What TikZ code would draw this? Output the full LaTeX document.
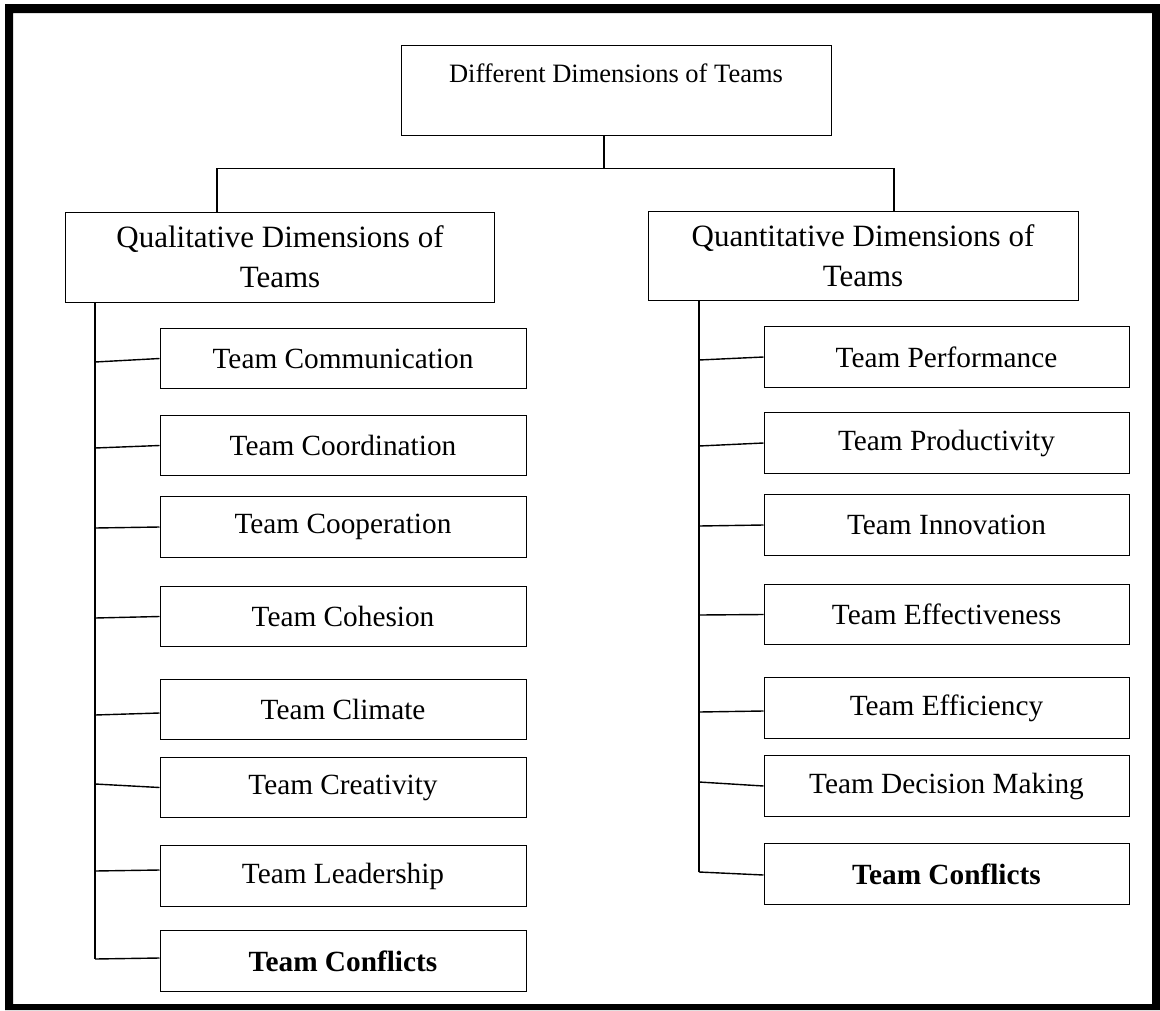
\documentclass[tikz,border=0pt]{standalone}
\usepackage{fontspec}
\setmainfont{Liberation Serif}
\usetikzlibrary{calc}
\tikzset{
  box/.style={draw=black, line width=1pt, rectangle, inner sep=0pt, align=center},
  childbox/.style={box, minimum width=366pt, minimum height=60.5pt, font=\fontsize{29.3}{34}\selectfont},
  headbox/.style={box, minimum width=429pt, minimum height=90pt, font=\fontsize{31}{40}\selectfont},
  conn/.style={draw=black, line width=1.4pt},
  toptext/.style={font=\fontsize{26.5}{32}\selectfont, inner sep=0pt}
}
\begin{document}
\begin{tikzpicture}[x=1pt,y=-1pt]
\useasboundingbox (0,0) rectangle (1160,1010);
\fill[white] (0,0) rectangle (1160,1010);
% frame
\fill[black, even odd rule] (5,4) rectangle (1160,1010) (13,13) rectangle (1152,1004);

% top
\node[box, minimum width=430pt, minimum height=90pt] (top) at (616,90) {};
\node[toptext] (toplabel) at (616,73) {Different Dimensions of Teams};

% second level
\node[headbox] (qual) at (280,257) {Qualitative Dimensions of\\Teams};
\node[headbox, minimum width=430pt, minimum height=89pt] (quant) at (863,255.5) {Quantitative Dimensions of\\Teams};

% left children
\node[childbox] (comm)  at (343,358.5) {Team Communication};
\node[childbox] (coord) at (343,445.5) {Team Coordination};
\node[childbox] (coop)  at (343,527)   {Team Cooperation};
\node[childbox] (coh)   at (343,616.5) {Team Cohesion};
\node[childbox] (clim)  at (343,709.5) {Team Climate};
\node[childbox] (crea)  at (343,787.5) {Team Creativity};
\node[childbox] (lead)  at (343,876)   {Team Leadership};
\node[childbox] (lconf) at (343,961)   {\textbf{Team Conflicts}};

% right children
\node[childbox, minimum width=365pt] (perf)  at (946.5,357)   {Team Performance};
\node[childbox, minimum width=365pt] (prod)  at (946.5,443)   {Team Productivity};
\node[childbox, minimum width=365pt] (innov) at (946.5,525)   {Team Innovation};
\node[childbox, minimum width=365pt] (effe)  at (946.5,614.5) {Team Effectiveness};
\node[childbox, minimum width=365pt] (effi)  at (946.5,708)   {Team Efficiency};
\node[childbox, minimum width=365pt] (dec)   at (946.5,786)   {Team Decision Making};
\node[childbox, minimum width=365pt] (rconf) at (946.5,874)   {\textbf{Team Conflicts}};

% top connectors
\coordinate (hub) at (604,168.5);
\coordinate (jL) at (217,168.5);
\coordinate (jR) at (894,168.5);
\draw[conn] (top.south -| hub) -- (hub);
\draw[conn] (qual.north -| jL) -- (jL) -- (jR) -- (quant.north -| jR);

% left trunk
\coordinate (lt1) at (95,362);
\coordinate (lt2) at (95,448);
\coordinate (lt3) at (95,528);
\coordinate (lt4) at (95,618);
\coordinate (lt5) at (95,715);
\coordinate (lt6) at (95,784);
\coordinate (lt7) at (95,871);
\coordinate (lt8) at (95,959);
\draw[conn] (qual.south -| lt1) -- (lt8);
\draw[conn] (lt1) -- (comm.west);
\draw[conn] (lt2) -- (coord.west);
\draw[conn] (lt3) -- (coop.west);
\draw[conn] (lt4) -- (coh.west);
\draw[conn] (lt5) -- ([yshift=-3.5pt]clim.west);
\draw[conn] (lt6) -- (crea.west);
\draw[conn] (lt7) -- ([yshift=6pt]lead.west);
\draw[conn] (lt8) -- ([yshift=3pt]lconf.west);

% right trunk
\coordinate (rt1) at (699,360);
\coordinate (rt2) at (699,446);
\coordinate (rt3) at (699,526);
\coordinate (rt4) at (699,615);
\coordinate (rt5) at (699,712);
\coordinate (rt6) at (699,782);
\coordinate (rt7) at (699,872);
\draw[conn] (quant.south -| rt1) -- (rt7);
\draw[conn] (rt1) -- (perf.west);
\draw[conn] (rt2) -- (prod.west);
\draw[conn] (rt3) -- (innov.west);
\draw[conn] (rt4) -- (effe.west);
\draw[conn] (rt5) -- ([yshift=-3pt]effi.west);
\draw[conn] (rt6) -- (dec.west);
\draw[conn] (rt7) -- ([yshift=-1pt]rconf.west);
\end{tikzpicture}
\end{document}
